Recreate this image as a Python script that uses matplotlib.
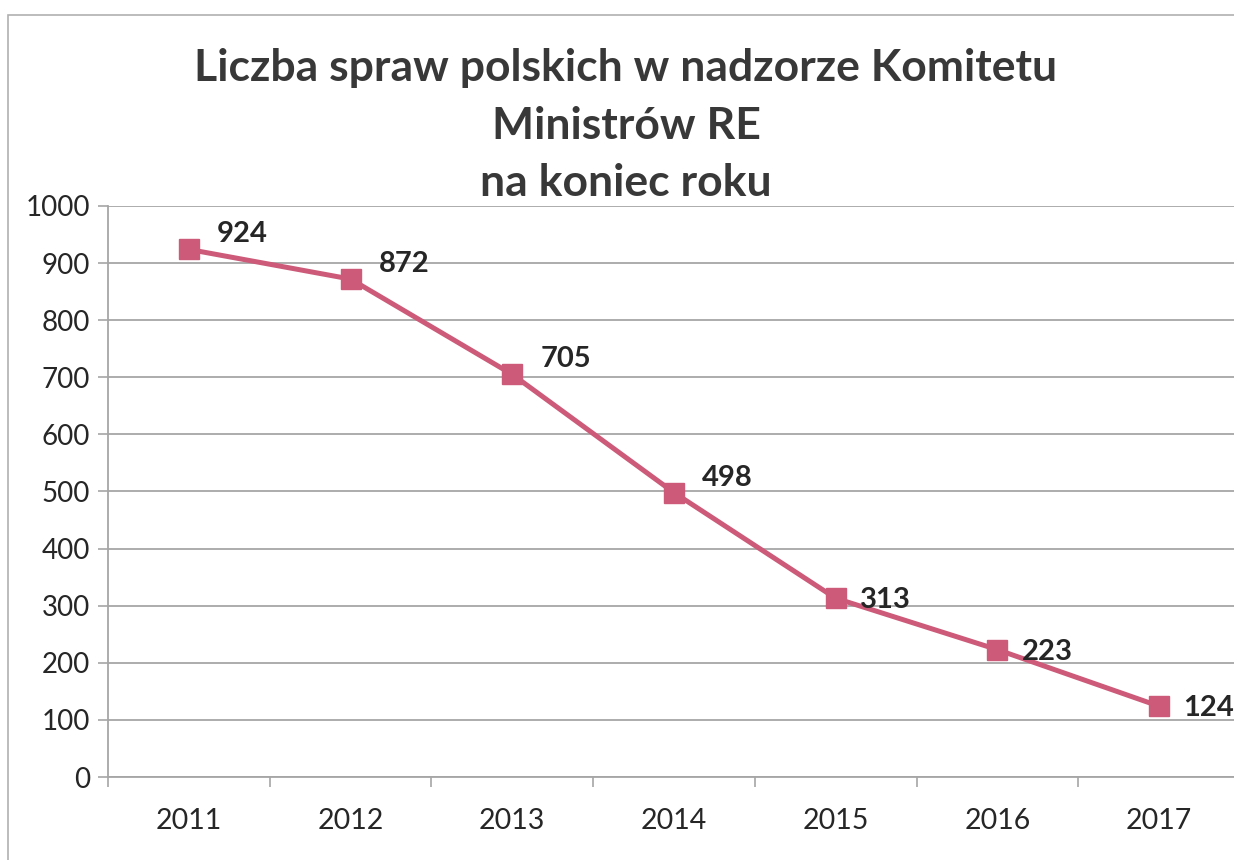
import matplotlib
matplotlib.use("Agg")
import matplotlib.pyplot as plt
from matplotlib.patches import Rectangle

plt.rcParams['font.family'] = ['Lato', 'DejaVu Sans']

# data
years = ["2011", "2012", "2013", "2014", "2015", "2016", "2017"]
cases = [924, 872, 705, 498, 313, 223, 124]
# labels above-right for the first four, right for the rest
label_above = [True, True, True, True, False, False, False]

LINE_COLOR = "#cc5a78"
GRID_COLOR = "#a6a6a6"

fig = plt.figure(figsize=(12.34, 8.6), dpi=100)
fig.patch.set_facecolor("white")

# frame of the chart (cut at right and bottom like the scan)
fig.add_artist(Rectangle((8 / 1234, -0.05), 1.1, 0.05 + (860 - 15) / 860,
                         transform=fig.transFigure, fill=False,
                         edgecolor="#b0b0b0", linewidth=1.2))

# axes placed in pixel terms: x 108..1240, y 206..777
ax = fig.add_axes([108 / 1234, (860 - 777) / 860, (1240 - 108) / 1234, (777 - 206) / 860])
ax.set_facecolor("none")

x = list(range(len(years)))
ax.plot(x, cases, color=LINE_COLOR, linewidth=3.6, marker="s", markersize=14.5,
        markerfacecolor=LINE_COLOR, markeredgecolor=LINE_COLOR, zorder=3, clip_on=False)

for xi, v, up in zip(x, cases, label_above):
    if up:
        ax.annotate(str(v), (xi, v), xytext=(28, 15), textcoords="offset pixels",
                    ha="left", va="center", fontsize=21, fontweight="bold", color="#262626")
    else:
        ax.annotate(str(v), (xi, v), xytext=(24, -2), textcoords="offset pixels",
                    ha="left", va="center", fontsize=21, fontweight="bold", color="#262626")

ax.set_xlim(-0.5, len(years) - 0.5)
ax.set_ylim(0, 1000)
ax.set_yticks(range(0, 1001, 100))
ax.set_xticks(x)
ax.set_xticklabels(years)
ax.set_xticks([i - 0.5 for i in range(len(years) + 1)], minor=True)

ax.yaxis.grid(True, color=GRID_COLOR, linewidth=1.3)
ax.set_axisbelow(True)
for s in ["top", "right"]:
    ax.spines[s].set_visible(False)
ax.spines["left"].set_color(GRID_COLOR)
ax.spines["bottom"].set_color(GRID_COLOR)
ax.spines["left"].set_linewidth(1.3)
ax.spines["bottom"].set_linewidth(1.3)

ax.tick_params(axis="y", length=7, width=1.2, color=GRID_COLOR, labelsize=20,
               labelcolor="#262626", pad=6)
ax.tick_params(axis="x", which="major", length=0, labelsize=20.5, labelcolor="#262626", pad=22)
ax.tick_params(axis="x", which="minor", length=7, width=1.2, color=GRID_COLOR)

title_lines = ["Liczba spraw polskich w nadzorze Komitetu", "Ministrów RE", "na koniec roku"]
for line, ypix in zip(title_lines, [68, 126, 183]):
    fig.text(626 / 1234, 1 - ypix / 860, line, ha="center", va="center",
             fontsize=32, fontweight="bold", color="#383838")

fig.savefig("out.png", dpi=100)
